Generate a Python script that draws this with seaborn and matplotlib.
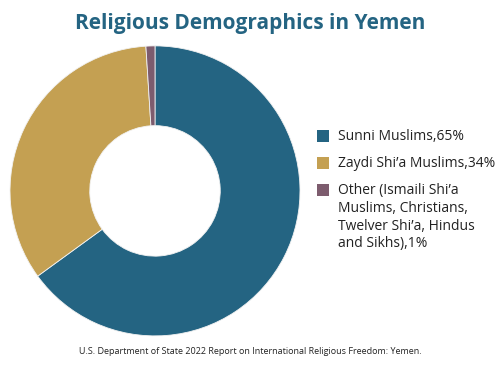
import matplotlib
matplotlib.use("Agg")
import matplotlib.pyplot as plt
from matplotlib.patches import Rectangle
import seaborn as sns

# data
groups = ["Sunni Muslims", "Zaydi Shi\u2019a Muslims",
          "Other (Ismaili Shi\u2019a\nMuslims, Christians,\nTwelver Shi\u2019a, Hindus\nand Sikhs)"]
shares = [65, 34, 1]
colors = ["#246482", "#C4A052", "#7D5C6E"]

sns.set_theme(style="white")
plt.rcParams['font.family'] = ['Open Sans', 'DejaVu Sans']

W, H = 500, 365
fig = plt.figure(figsize=(5, 3.65), dpi=100)
ax = fig.add_axes([0.02, 0.0795, 0.58, 0.795])

wedges, _ = ax.pie(shares, colors=sns.color_palette(colors), startangle=90,
                   counterclock=False,
                   wedgeprops=dict(width=0.55, edgecolor="#f2f2f2", linewidth=0.6))
ax.set_xlim(-1.0, 1.0)
ax.set_ylim(-1.0, 1.0)
ax.set_aspect("equal")

# legend drawn by hand so the square sits on the first text line
rows = [136, 163, 190]
for w, g, s, yc in zip(wedges, groups, shares, rows):
    fig.patches.append(Rectangle((317 / W, 1 - (yc + 6) / H), 12 / W, 12 / H,
                                 transform=fig.transFigure, facecolor=w.get_facecolor(),
                                 edgecolor="none"))
    fig.text(338 / W, 1 - (yc - 7) / H, f"{g},{s}%", ha="left", va="top",
             fontsize=10, color="#222222", linespacing=1.25)

fig.text(0.5, 1 - 24 / H, "Religious Demographics in Yemen", ha="center", va="center",
         fontsize=15, fontweight="bold", color="#246482")
fig.text(0.5, 1 - 351 / H, "U.S. Department of State 2022 Report on International Religious Freedom: Yemen.",
         ha="center", va="center", fontsize=6.5, color="#222222")

fig.savefig("out.png", dpi=100)
